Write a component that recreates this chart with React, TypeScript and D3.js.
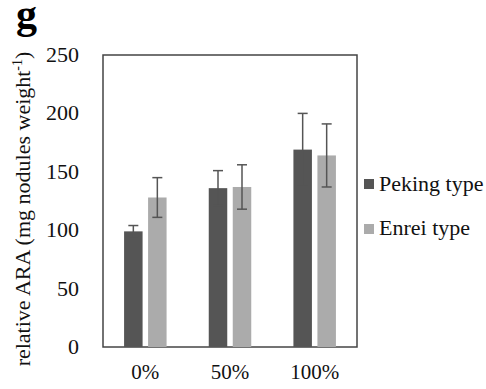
import * as d3 from 'd3';
import React from 'react';

const categories = ['0%', '50%', '100%'];
const seriesNames = ['Peking type', 'Enrei type'];
const peking = [99, 136, 169];
const enrei = [128, 137, 164];
const pekingErr = [5, 15, 31];
const enreiErr = [17, 19, 27];
const yTicks = [0, 50, 100, 150, 200, 250];

const colors = ['#555555', '#ababab'];
const font = '"Liberation Serif", "Times New Roman", serif';

export default function App() {
  const W = 486;
  const H = 389;
  const left = 103, right = 357, top = 55, bottom = 347;

  const x = d3.scaleBand().domain(categories).range([left, right]).paddingInner(0).paddingOuter(0);
  const y = d3.scaleLinear().domain([0, 250]).range([bottom, top]);
  const barW = 18.5;
  const gap = 5.5;

  const series = [peking, enrei];
  const errs = [pekingErr, enreiErr];

  return (
    <svg width={W} height={H} style={{ position: 'absolute', left: 0, top: 0 }}>
      <rect width={W} height={H} fill="#fff" />
      <text x={16} y={28} fontFamily={font} fontWeight="bold" fontSize={42}>g</text>
      <rect x={left} y={top} width={right - left} height={bottom - top} fill="none" stroke="#444" strokeWidth={1.5} />
      {yTicks.map(t => (
        <text key={t} x={79} y={y(t) + 7} textAnchor="end" fontFamily={font} fontSize={22} fill="#111">{t}</text>
      ))}
      {categories.map((c, i) => {
        const cx = (x(c) as number) + x.bandwidth() / 2;
        return (
          <g key={c}>
            {series.map((s, k) => {
              const bx = k === 0 ? cx - gap / 2 - barW : cx + gap / 2;
              const v = s[i];
              const e = errs[k][i];
              const mx = bx + barW / 2;
              return (
                <g key={k}>
                  <rect x={bx} y={y(v)} width={barW} height={bottom - y(v)} fill={colors[k]} />
                  <line x1={mx} x2={mx} y1={y(v + e)} y2={y(v - e)} stroke="#555" strokeWidth={1.5} />
                  <line x1={mx - 5} x2={mx + 5} y1={y(v + e)} y2={y(v + e)} stroke="#555" strokeWidth={1.5} />
                  <line x1={mx - 5} x2={mx + 5} y1={y(v - e)} y2={y(v - e)} stroke="#555" strokeWidth={1.5} />
                </g>
              );
            })}
            <text x={cx} y={379} textAnchor="middle" fontFamily={font} fontSize={21} fill="#111">{c}</text>
          </g>
        );
      })}
      {seriesNames.map((n, k) => (
        <g key={n}>
          <rect x={364} y={179 + k * 45} width={10} height={10} fill={colors[k]} />
          <text x={379} y={191 + k * 44} fontFamily={font} fontSize={22} fill="#111">{n}</text>
        </g>
      ))}
      <text transform="translate(30, 209) rotate(-90)" textAnchor="middle" fontFamily={font} fontSize={22} fill="#111">
        relative ARA (mg nodules weight<tspan dy={-8} fontSize={14}>-1</tspan><tspan dy={8}>)</tspan>
      </text>
    </svg>
  );
}
